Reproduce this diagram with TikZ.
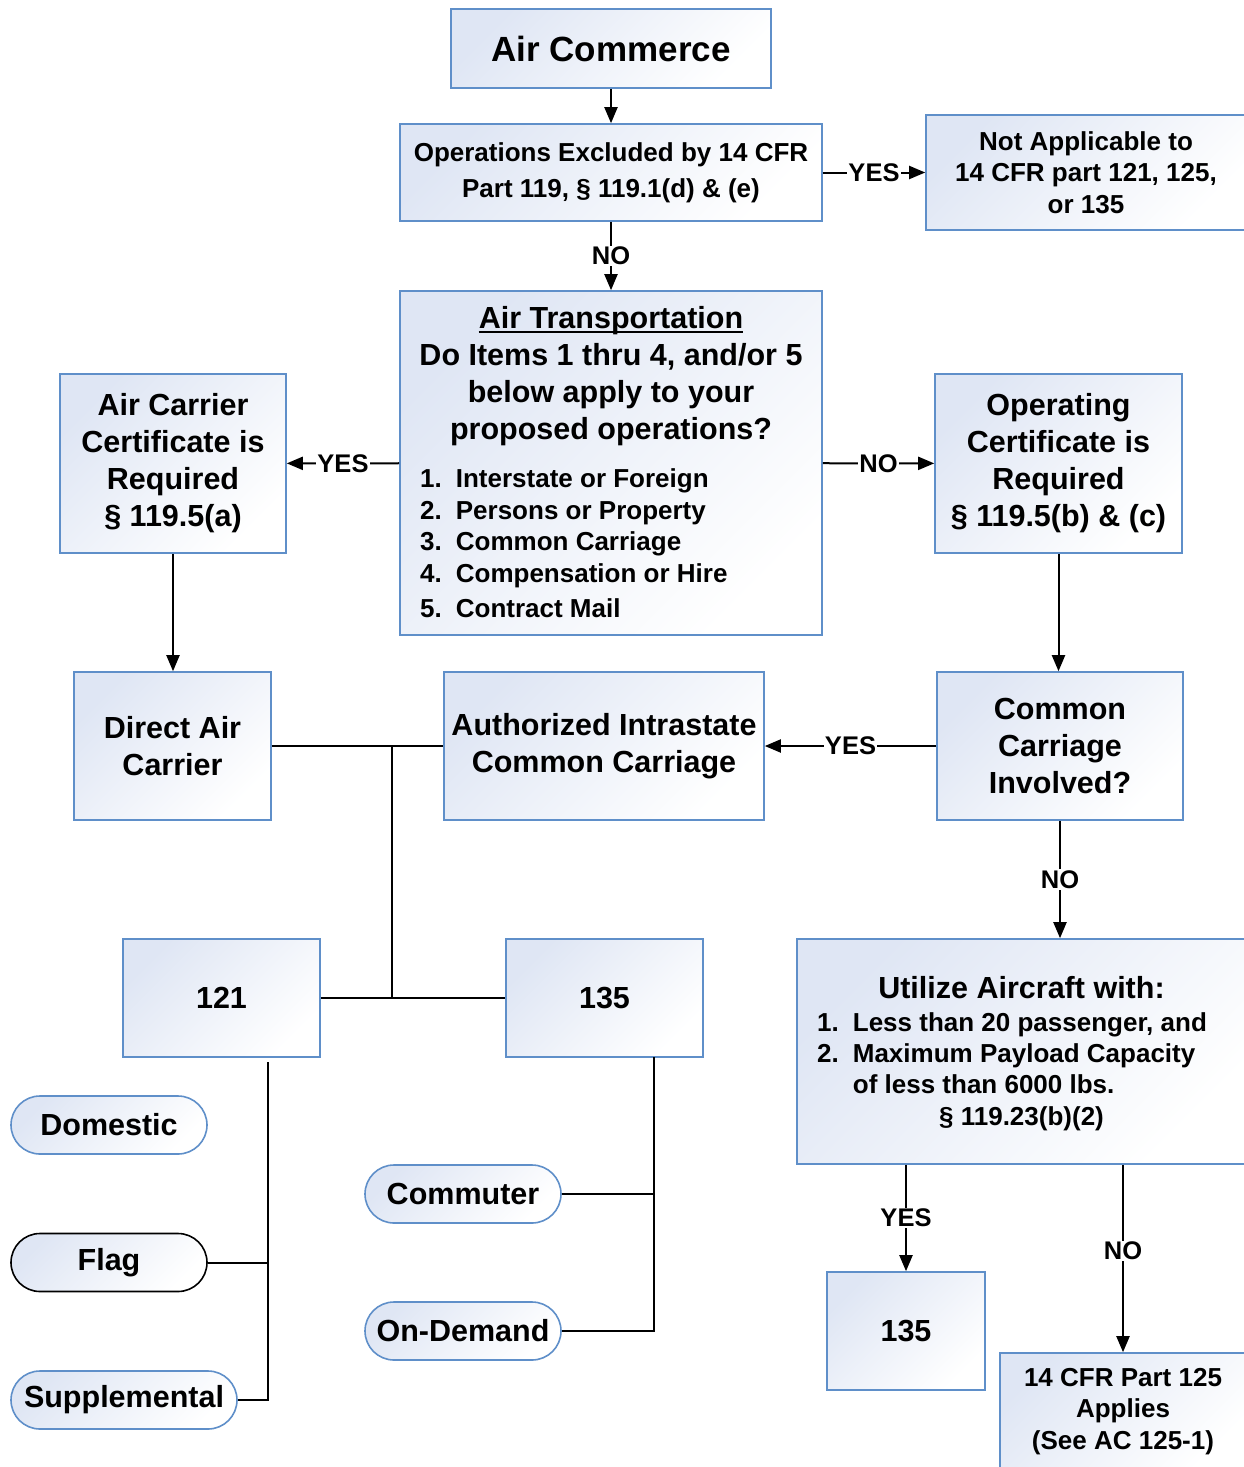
\documentclass[tikz,border=0pt]{standalone}
\usepackage{fontspec}
\setmainfont{Liberation Sans}
\usetikzlibrary{arrows.meta}
\definecolor{boxblue}{HTML}{5F8FC9}
\definecolor{tint}{HTML}{DFE6F4}
\newcommand\fHuge{\fontsize{35}{40}\selectfont\bfseries}
\newcommand\fBig{\fontsize{30.5}{37}\selectfont\bfseries}
\newcommand\fSmall{\fontsize{26}{31.5}\selectfont\bfseries}
\newcommand\fLabel{\fontsize{25.5}{30}\selectfont\bfseries}
\begin{document}
\begin{tikzpicture}[x=1pt,y=-1pt,
  shade/.style={top color=tint, middle color=white!96!tint, bottom color=white, shading angle=45},
  box/.style={shade, draw=boxblue, line width=1.6, inner sep=0, align=center, font=\fBig},
  oval/.style={shade, draw=boxblue, line width=1.6, inner sep=0, rounded corners=29,
               minimum height=58, font=\fBig},
  txt/.style={inner sep=0},
  wire/.style={draw=black, line width=2},
  arr/.style={wire, -{Triangle[length=16pt,width=13pt]}},
  lbl/.style={fill=white, inner sep=1.2, font=\fLabel}]
\useasboundingbox (0,0) rectangle (1243,1467);

% ---- top of the chart
\node[box, minimum width=320, minimum height=79, font=\fHuge] (commerce) at (611,48.5) {Air Commerce};
\node[box, minimum width=422, minimum height=97, font={\fontsize{26}{36}\selectfont\bfseries}]
  (ops) at (611,172.5) {Operations Excluded by 14 CFR\\Part 119, § 119.1(d) \& (e)};
\node[box, minimum width=320, minimum height=115, font=\fSmall]
  (notapp) at (1086,172.5) {Not Applicable to\\14 CFR part 121, 125,\\or 135};

% ---- air transportation question
\node[box, minimum width=422, minimum height=344] (trans) at (611,463) {};
\node[txt, anchor=base, font=\fBig] (transtitle) at (611,328) {Air Transportation};
\draw[line width=1.8] ([yshift=-4]transtitle.base west) -- ([yshift=-4]transtitle.base east);
\node[txt, anchor=base, font=\fBig] (transq) at (611,365)
  {\begin{tabular}[t]{@{}c@{}}Do Items 1 thru 4, and/or 5\\below apply to your\\proposed operations?\end{tabular}};
\node[txt, anchor=base west, font={\fontsize{26}{31.7}\selectfont\bfseries}] (translist) at (420,487.5)
  {\begin{tabular}[t]{@{}l@{\hspace{14pt}}l@{}}1.&Interstate or Foreign\\2.&Persons or Property\\
   3.&Common Carriage\\4.&Compensation or Hire\\[3pt]5.&Contract Mail\end{tabular}};

\node[box, minimum width=226, minimum height=179] (aircert) at (173,463.5)
  {Air Carrier\\Certificate is\\Required\\§ 119.5(a)};
\node[box, minimum width=247, minimum height=179] (opcert) at (1058.5,463.5)
  {Operating\\Certificate is\\Required\\§ 119.5(b) \& (c)};

% ---- middle row
\node[box, minimum width=197, minimum height=148] (direct) at (172.5,746) {Direct Air\\Carrier};
\node[box, minimum width=320, minimum height=148] (intra) at (604,746) {Authorized Intrastate\\Common Carriage};
\node[box, minimum width=246, minimum height=148] (common) at (1060,746) {Common\\Carriage\\Involved?};

% ---- parts 121 / 135
\node[box, minimum width=197, minimum height=118] (p121) at (221.5,998) {121};
\node[box, minimum width=197, minimum height=118] (p135) at (604.5,998) {135};

% ---- aircraft size test
\node[box, minimum width=449, minimum height=225] (util) at (1021.5,1051.5) {};
\node[txt, anchor=base, font=\fBig] (utiltitle) at (1021.5,998) {Utilize Aircraft with:};
\node[txt, anchor=base west, font={\fontsize{26}{31.2}\selectfont\bfseries}] (utillist) at (817,1031.4)
  {\begin{tabular}[t]{@{}l@{\hspace{14pt}}l@{}}1.&Less than 20 passenger, and\\2.&Maximum Payload Capacity\\
   &of less than 6000 lbs.\end{tabular}};
\node[txt, anchor=base, font=\fSmall] (utilref) at (1021.5,1125.4) {§ 119.23(b)(2)};

\node[box, minimum width=158, minimum height=118] (p135b) at (906,1331) {135};
\node[box, minimum width=246, minimum height=117, font=\fSmall] (p125) at (1123,1411.5)
  {14 CFR Part 125\\Applies\\(See AC 125-1)};

% ---- kinds of operation
\node[oval, minimum width=196] (domestic) at (109,1125) {Domestic};
\node[oval, minimum width=196, draw=black] (flag) at (109,1262.5) {Flag};
\node[oval, minimum width=226] (supp) at (124,1400) {Supplemental};
\node[oval, minimum width=196] (commuter) at (463,1194) {Commuter};
\node[oval, minimum width=196] (ondemand) at (463,1331) {On-Demand};

% ---- connectors
\draw[arr] (commerce) -- (ops);
\draw[arr] (ops) -- node[lbl] {YES} (notapp);
\draw[arr] (ops) -- node[lbl] {NO} (trans);
\draw[arr] (trans) -- node[lbl] {YES} (aircert);
\draw[arr] (trans) -- node[lbl] {NO} (opcert);
\draw[arr] (aircert) -- (aircert.south |- direct.north);
\draw[arr] (opcert) -- (opcert.south |- common.north);
\draw[arr] (common) -- node[lbl] {YES} (intra);
\draw[arr] (common) -- node[lbl] {NO} (common.south |- util.north);

\coordinate (j1) at (392,746);
\coordinate (j2) at (392,998);
\draw[wire] (direct.east) -- (intra.west);
\draw[wire] (j1) -- (j2);
\draw[wire] (p121.east) -- (p135.west);

\coordinate (t121) at (268,1062);
\draw[wire] (t121) -- (t121 |- supp.east) -- (supp.east);
\draw[wire] (flag.east) -- (t121 |- flag.east);
\coordinate (t135) at (654,1057);
\draw[wire] (t135) -- (t135 |- ondemand.east) -- (ondemand.east);
\draw[wire] (commuter.east) -- (t135 |- commuter.east);

\draw[arr] (p135b.north |- util.south) -- node[lbl, pos=0.5] {YES} (p135b.north);
\draw[arr] (p125.north |- util.south) -- node[lbl, pos=0.46] {NO} (p125.north);
\end{tikzpicture}
\end{document}
